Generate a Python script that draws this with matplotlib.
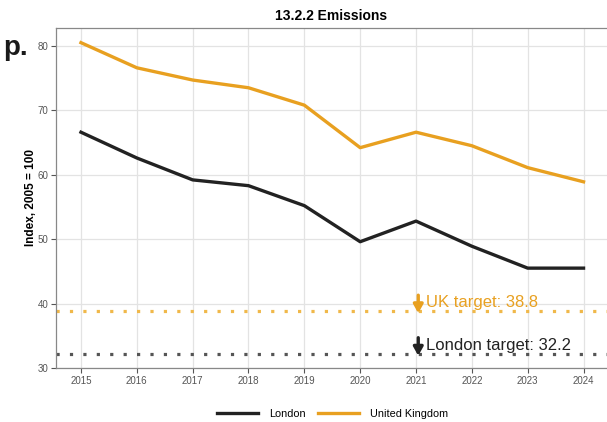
import matplotlib
matplotlib.use("Agg")
import matplotlib.pyplot as plt

years = [2015, 2016, 2017, 2018, 2019, 2020, 2021, 2022, 2023, 2024]
london = [66.6, 62.6, 59.2, 58.3, 55.2, 49.6, 52.8, 48.9, 45.5, 45.5]
uk = [80.5, 76.6, 74.7, 73.5, 70.8, 64.2, 66.6, 64.5, 61.1, 58.9]
uk_target = 38.8
london_target = 32.2
target_year = 2021

LONDON_COL = "#222222"
UK_COL = "#E8A020"

plt.rcParams["font.family"] = ["Liberation Sans", "DejaVu Sans"]

fig = plt.figure(figsize=(6.07, 4.22), dpi=100)
ax = fig.add_axes([0.092, 0.128, 0.908, 0.806])

ax.plot(years, london, color=LONDON_COL, lw=2.4, label="London", zorder=3)
ax.plot(years, uk, color=UK_COL, lw=2.4, label="United Kingdom", zorder=3)

# target lines
ax.axhline(uk_target, color="#F0B84A", lw=2.3, ls=(0, (1, 3.2)), zorder=2)
ax.axhline(london_target, color="#555555", lw=2.3, ls=(0, (1, 3.2)), zorder=2)

# arrows + labels
for val, col, txt in [(uk_target, UK_COL, "UK target: 38.8"),
                      (london_target, LONDON_COL, "London target: 32.2")]:
    ax.annotate("", xy=(target_year + 0.04, val - 0.3), xytext=(target_year + 0.04, val + 2.5),
                arrowprops=dict(arrowstyle="-|>,head_width=0.28,head_length=0.5",
                                color=col, lw=2.4, shrinkA=0, shrinkB=0), zorder=4)
    ax.text(target_year + 0.17, val + 1.3, txt, color=col, fontsize=12,
            va="center", ha="left", zorder=4)

ax.set_xlim(2014.55, 2024.42)
ax.set_ylim(30, 82.8)
ax.set_xticks(years)
ax.set_yticks([30, 40, 50, 60, 70, 80])
ax.grid(True, color="#e3e3e3", lw=0.9, zorder=0)
ax.set_axisbelow(True)
ax.tick_params(labelsize=7, colors="#555555", length=3.5, width=0.8, pad=2)
for lab in ax.get_xticklabels() + ax.get_yticklabels():
    lab.set_color("#555555")
for s in ["left", "top", "bottom"]:
    ax.spines[s].set_color("#888888")
    ax.spines[s].set_linewidth(0.9)
ax.spines["right"].set_visible(False)

ax.set_ylabel("Index, 2005 = 100", fontsize=8.5, fontweight="bold")
ax.yaxis.set_label_coords(-0.034, 0.5)
ax.set_title("13.2.2 Emissions", fontsize=10, fontweight="bold", pad=6)

fig.text(0.005, 0.887, "p.", fontsize=20, fontweight="bold", color="#1a1a1a",
         ha="left", va="center")

fig.legend(loc="lower center", bbox_to_anchor=(0.548, -0.015), ncol=2, frameon=False,
           fontsize=7.8, handlelength=3.8, columnspacing=1.1, handletextpad=1.0)

fig.savefig("out.png", dpi=100)
